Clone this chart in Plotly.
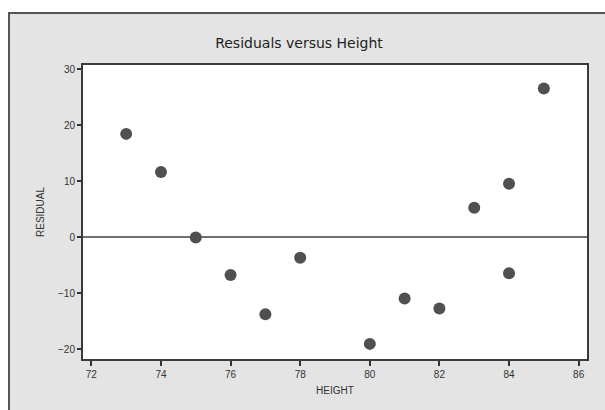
import plotly.graph_objects as go

height = [73, 74, 75, 76, 77, 78, 80, 81, 82, 83, 84, 84, 85]
residual = [18.5, 11.7, 0.0, -6.7, -13.7, -3.6, -19.0, -10.9, -12.7, 5.3, 9.6, -6.4, 26.6]
x_ticks = [72, 74, 76, 78, 80, 82, 84, 86]
y_ticks = [-20, -10, 0, 10, 20, 30]

W, H = 605, 410
L, R, T, B = 83, 587, 65, 359
pw, ph = R - L, B - T

def px(x):
    return (x - L) / pw

def py(y):
    return (B - y) / ph

fig = go.Figure()
fig.add_trace(go.Scatter(
    x=height, y=residual, mode="markers",
    marker=dict(size=12, color="#505050", line=dict(width=0)),
    showlegend=False, cliponaxis=False,
))

fig.add_shape(type="rect", xref="paper", yref="paper",
              x0=px(9), x1=px(612), y0=py(415), y1=py(13),
              fillcolor="#e4e4e4", line=dict(color="#555555", width=2), layer="below")
fig.add_shape(type="rect", xref="paper", yref="paper",
              x0=0, x1=1, y0=0, y1=1,
              fillcolor="white", line=dict(width=0), layer="below")

axis_font = dict(family="Liberation Sans", size=10, color="#333333")
fig.update_layout(
    width=W, height=H,
    margin=dict(l=L, r=W - R, t=T, b=H - B),
    paper_bgcolor="white", plot_bgcolor="white",
    title=dict(text="Residuals versus Height", x=(299) / W, xanchor="center",
               y=1 - 43 / H, yanchor="middle",
               font=dict(family="DejaVu Sans", size=14, color="#222222")),
    xaxis=dict(range=[71.76, 86.24], tickvals=x_ticks, ticks="outside", ticklen=5,
               tickcolor="#333333", tickwidth=1.5, showgrid=False, zeroline=False,
               showline=True, mirror=True, linecolor="#3a3a3a", linewidth=2,
               tickfont=axis_font,
               title=dict(text="HEIGHT", standoff=8,
                          font=dict(family="Liberation Sans", size=10, color="#333333"))),
    yaxis=dict(range=[-21.7, 30.8], tickvals=y_ticks, ticks="outside", ticklen=4,
               tickcolor="#333333", tickwidth=1.5, showgrid=False,
               zeroline=True, zerolinecolor="#707070", zerolinewidth=2,
               showline=True, mirror=True, linecolor="#3a3a3a", linewidth=2,
               tickfont=axis_font,
               title=dict(text="RESIDUAL", standoff=12,
                          font=dict(family="Liberation Sans", size=10, color="#333333"))),
)

fig.write_html("out.html", config={"displayModeBar": False},
               post_script="document.body.style.margin='0';")
